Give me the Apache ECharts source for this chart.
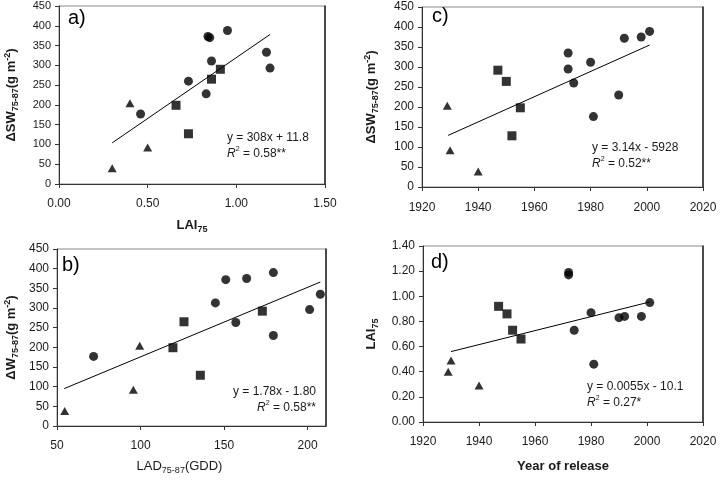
<!DOCTYPE html>
<html>
<head>
<meta charset="utf-8">
<script src="https://cdn.jsdelivr.net/npm/echarts@6/dist/echarts.min.js"></script>
<style>
  html, body { margin: 0; background: #fff; }
  #chart { width: 721px; height: 488px; }
</style>
</head>
<body>
<div id="chart"></div>
<script>
// a) LAI75 vs dSW75-87
const aTriX = [0.30, 0.40, 0.50];
const aTriY = [40, 204, 92];
const aSqX = [0.66, 0.73, 0.86, 0.91];
const aSqY = [199, 127, 265, 290];
const aCirX = [0.46, 0.73, 0.83, 0.84, 0.85, 0.86, 0.95, 1.17, 1.19];
const aCirY = [177, 260, 228, 373, 370, 311, 388, 333, 293];
const aFitX = [0.30, 1.19];
const aFitY = [104, 378];

// b) LAD75-87 vs dW75-87
const bTriX = [54.6, 95.7, 99.5];
const bTriY = [38, 92, 204];
const bSqX = [119.4, 126, 135.8, 172.9];
const bSqY = [199, 265, 129, 292];
const bCirX = [71.9, 144.8, 151, 157, 163.5, 179.5, 179.5, 201.2, 207.6];
const bCirY = [177, 313, 372, 263, 375, 390, 230, 296, 335];
const bFitX = [54.3, 207.6];
const bFitY = [95, 366];

// c) year of release vs dSW75-87
const cTriX = [1929, 1930, 1940];
const cTriY = [203, 92, 39];
const cSqX = [1947, 1950, 1952, 1955];
const cSqY = [292, 264, 128, 198];
const cCirX = [1972, 1972, 1974, 1980, 1981, 1990, 1992, 1998, 2001];
const cCirY = [335, 295, 260, 312, 176, 230, 372, 375, 389];
const cFitX = [1929.3, 2001];
const cFitY = [129, 355];

// d) year of release vs LAI75
const dTriX = [1929, 1930, 1940];
const dTriY = [0.40, 0.49, 0.29];
const dSqX = [1947, 1950, 1952, 1955];
const dSqY = [0.92, 0.86, 0.73, 0.66];
const dCirX = [1972, 1972, 1974, 1980, 1981, 1990, 1992, 1998, 2001];
const dCirY = [1.19, 1.17, 0.73, 0.87, 0.46, 0.83, 0.84, 0.84, 0.95];
const dFitX = [1930, 2001];
const dFitY = [0.56, 0.955];

const equations = [
  { eq: "y = 308x + 11.8", r2: "0.58**" },
  { eq: "y = 1.78x - 1.80", r2: "0.58**" },
  { eq: "y = 3.14x - 5928", r2: "0.52**" },
  { eq: "y = 0.0055x - 10.1", r2: "0.27*" },
];
const panelLabels = ["a)", "b)", "c)", "d)"];

const font = "'Liberation Sans', Arial, sans-serif";
const ink = "#1a1a1a";

const pairs = (xs, ys) => xs.map((x, i) => [x, ys[i]]);

const titleRich = {
  t: { fontSize: 13, fontWeight: "bold", fontFamily: font, color: ink, lineHeight: 17 },
  sub: { fontSize: 9, fontWeight: "bold", fontFamily: font, color: ink, verticalAlign: "bottom" },
  sup: { fontSize: 9, fontWeight: "bold", fontFamily: font, color: ink, verticalAlign: "top" },
  r: { fontSize: 13, fontFamily: font, color: ink, lineHeight: 17 },
  rsub: { fontSize: 9, fontFamily: font, color: ink, verticalAlign: "bottom" },
};

function valueAxis(gridIndex, min, max, interval, opts) {
  return Object.assign(
    {
      type: "value",
      gridIndex,
      min,
      max,
      interval,
      splitLine: { show: false },
      axisLine: { onZero: false, lineStyle: { color: "#333", width: 1 } },
      axisTick: { show: true, length: 4, inside: false, lineStyle: { color: "#333" } },
      axisLabel: { color: ink, fontSize: 12, fontFamily: font, margin: 8 },
      nameLocation: "middle",
      nameTextStyle: { rich: titleRich },
    },
    opts,
  );
}

function rightBorder(gridIndex) {
  return {
    type: "value",
    gridIndex,
    position: "right",
    axisLine: { show: true, onZero: false, lineStyle: { color: "#222", width: 1.5 } },
    axisTick: { show: false },
    axisLabel: { show: false },
    splitLine: { show: false },
  };
}

function fixed(d) {
  return (v) => v.toFixed(d);
}

const grids = [
  { left: 59, top: 6, width: 266, height: 178 },
  { left: 57, top: 249, width: 269, height: 177 },
  { left: 422, top: 7, width: 281, height: 180 },
  { left: 423, top: 246, width: 280, height: 176 },
].map((g) => Object.assign(g, { show: true, borderColor: "#8a8a8a", borderWidth: 1 }));

const xAxes = [
  valueAxis(0, 0, 1.5, 0.5, {
    axisLabel: { color: ink, fontSize: 12, fontFamily: font, margin: 14, formatter: fixed(2) },
    name: "{t|LAI}{sub|75}",
    nameGap: 33,
  }),
  valueAxis(1, 50, 211, 50, {
    axisLabel: { color: ink, fontSize: 12, fontFamily: font, margin: 14, showMaxLabel: false },
    name: "{r|LAD}{rsub|75-87}{r|(GDD)}",
    nameGap: 32,
    nameTextStyle: { rich: titleRich, padding: [0, 24, 0, 0] },
  }),
  valueAxis(2, 1920, 2020, 20, {
    axisLabel: { color: ink, fontSize: 12, fontFamily: font, margin: 15, formatter: (v) => String(v) },
  }),
  valueAxis(3, 1920, 2020, 20, {
    axisLabel: { color: ink, fontSize: 12, fontFamily: font, margin: 14, formatter: (v) => String(v) },
    name: "{t|Year of release}",
    nameGap: 36,
  }),
];

const yAxes = [
  valueAxis(0, 0, 450, 50, {
    axisLabel: { color: ink, fontSize: 11, fontFamily: "'Liberation Sans Narrow', " + font, margin: 8 },
    name: "{t|ΔSW}{sub|75-87}{t|(g m}{sup|-2}{t|)}",
    nameGap: 39,
  }),
  valueAxis(1, 0, 450, 50, {
    name: "{t|ΔW}{sub|75-87}{t|(g m}{sup|-2}{t|)}",
    nameGap: 37,
  }),
  valueAxis(2, 0, 450, 50, {
    name: "{t|ΔSW}{sub|75-87}{t|(g m}{sup|-2}{t|)}",
    nameGap: 42,
  }),
  valueAxis(3, 0, 1.4, 0.2, {
    axisLabel: { color: ink, fontSize: 12, fontFamily: font, margin: 8, formatter: fixed(2) },
    name: "{t|LAI}{sub|75}",
    nameGap: 43,
  }),
  rightBorder(0),
  rightBorder(1),
  rightBorder(2),
  rightBorder(3),
];

const panels = [
  [aTriX, aTriY, aSqX, aSqY, aCirX, aCirY, aFitX, aFitY],
  [bTriX, bTriY, bSqX, bSqY, bCirX, bCirY, bFitX, bFitY],
  [cTriX, cTriY, cSqX, cSqY, cCirX, cCirY, cFitX, cFitY],
  [dTriX, dTriY, dSqX, dSqY, dCirX, dCirY, dFitX, dFitY],
];

const series = [];
panels.forEach((p, i) => {
  const base = { type: "scatter", xAxisIndex: i, yAxisIndex: i, itemStyle: { color: "#000" }, silent: true };
  series.push(Object.assign({}, base, { symbol: "triangle", symbolSize: [9, 8], data: pairs(p[0], p[1]) }));
  series.push(Object.assign({}, base, { symbol: "rect", symbolSize: 9, data: pairs(p[2], p[3]) }));
  series.push(Object.assign({}, base, { symbol: "circle", symbolSize: 9, data: pairs(p[4], p[5]) }));
  series.push({
    type: "line",
    xAxisIndex: i,
    yAxisIndex: i,
    symbol: "none",
    silent: true,
    lineStyle: { color: "#000", width: 1 },
    data: pairs(p[6], p[7]),
  });
});

// text positions for panel labels and regression equations
const labelPos = [[68, 8], [62, 255], [432, 6], [431, 252]];
const eqPos = [[227, 130, "left"], [316, 384, "right"], [592, 140, "left"], [587, 379, "left"]];

const graphic = [];
panelLabels.forEach((t, i) => {
  graphic.push({
    type: "text",
    x: labelPos[i][0],
    y: labelPos[i][1],
    style: { text: t, fontSize: 20, fontFamily: font, fill: "#000" },
  });
});
equations.forEach((e, i) => {
  const [x, y, align] = eqPos[i];
  graphic.push({
    type: "text",
    x,
    y,
    style: {
      text: e.eq + "\n{i|R}{s|2} = " + e.r2,
      fontSize: 12,
      fontFamily: font,
      fill: ink,
      align,
      lineHeight: 16,
      rich: {
        i: { fontStyle: "italic", fontSize: 12, fontFamily: font, fill: ink },
        s: { fontSize: 7, fontFamily: font, fill: ink, verticalAlign: "top" },
      },
    },
  });
});

const chart = echarts.init(document.getElementById("chart"));
chart.setOption({
  animation: false,
  grid: grids,
  xAxis: xAxes,
  yAxis: yAxes,
  series,
  graphic,
});
</script>
</body>
</html>
